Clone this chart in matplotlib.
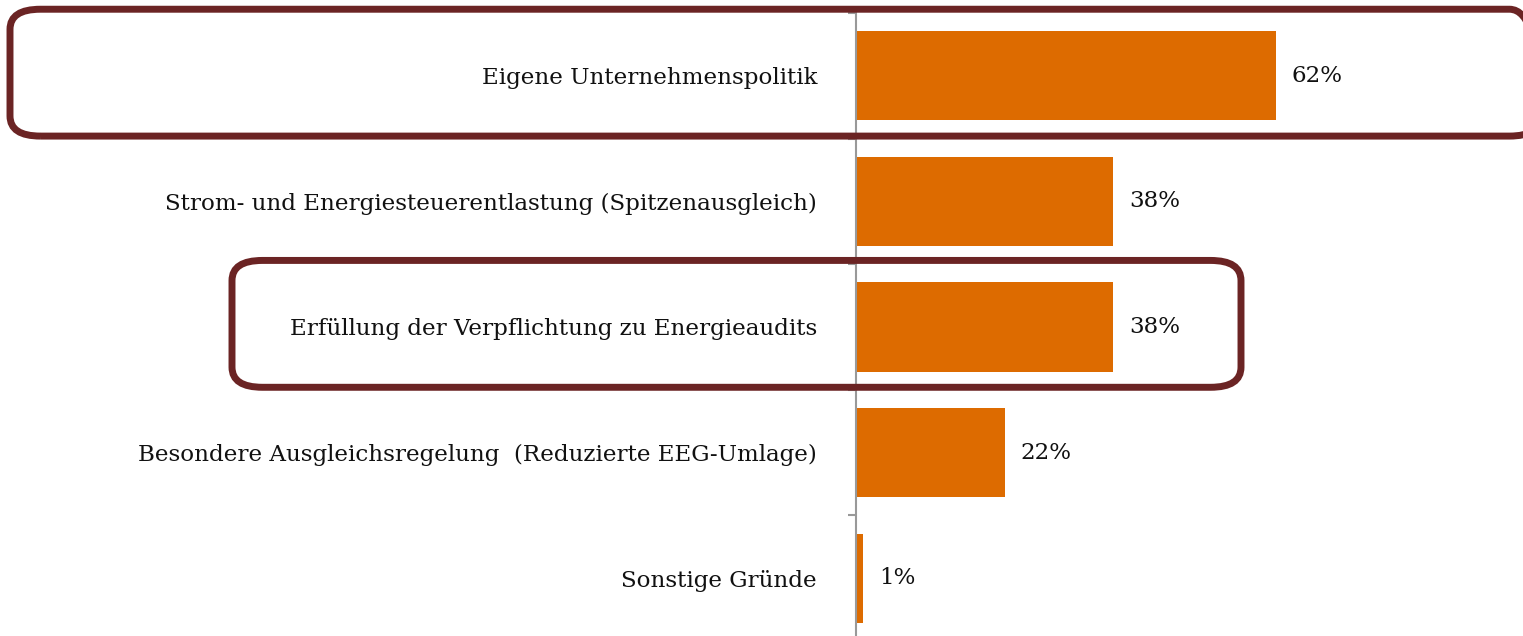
import matplotlib
matplotlib.use("Agg")
import matplotlib.pyplot as plt
import matplotlib.transforms as mtransforms
from matplotlib.patches import FancyBboxPatch

categories = [
    "Eigene Unternehmenspolitik",
    "Strom- und Energiesteuerentlastung (Spitzenausgleich)",
    "Erfüllung der Verpflichtung zu Energieaudits",
    "Besondere Ausgleichsregelung  (Reduzierte EEG-Umlage)",
    "Sonstige Gründe",
]
values = [62, 38, 38, 22, 1]
highlighted = [0, 2]

BAR_COLOR = "#DD6B00"
BOX_COLOR = "#6B2424"
AXIS_COLOR = "#999999"

plt.rcParams["font.family"] = ["DejaVu Serif"]

W, H = 1523, 636
fig = plt.figure(figsize=(W / 100, H / 100), dpi=100)
ax = fig.add_axes([856 / W, 1 - 641 / H, (W - 856) / W, 628 / H])

pos = list(range(len(categories)))
ax.barh(pos, values, height=0.71, color=BAR_COLOR)
ax.set_ylim(len(categories) - 0.5, -0.5)
ax.set_xlim(0, (W - 856) / 6.77)

for sp in ["top", "right", "bottom"]:
    ax.spines[sp].set_visible(False)
ax.spines["left"].set_color(AXIS_COLOR)
ax.spines["left"].set_linewidth(1.5)
ax.set_xticks([])

ax.set_yticks(pos)
ax.set_yticklabels(categories, fontsize=16.6, color="#111111")
ax.tick_params(axis="y", which="major", length=0, pad=28)
ax.set_yticks([p - 0.5 for p in pos], minor=True)
ax.tick_params(axis="y", which="minor", length=6, width=1.5, color=AXIS_COLOR)

for p, v in zip(pos, values):
    ax.annotate(f"{v}%", (v, p), xytext=(11.5, 0), textcoords="offset points",
                va="center", ha="left", fontsize=16.6, color="#111111")

# rounded highlight boxes: x in figure fraction, y in data units
trans = mtransforms.blended_transform_factory(fig.transFigure, ax.transData)
box_x = {0: (10 / W, 1540 / W), 2: (232 / W, 1241 / W)}
for i in highlighted:
    x0, x1 = box_x[i]
    box = FancyBboxPatch((x0, i + 0.48), x1 - x0, -1.01,
                         boxstyle="round,pad=0,rounding_size=0.02",
                         transform=trans, fill=False, edgecolor=BOX_COLOR,
                         linewidth=5, clip_on=False, mutation_aspect=-8)
    fig.add_artist(box)

fig.savefig("out.png", dpi=100)
